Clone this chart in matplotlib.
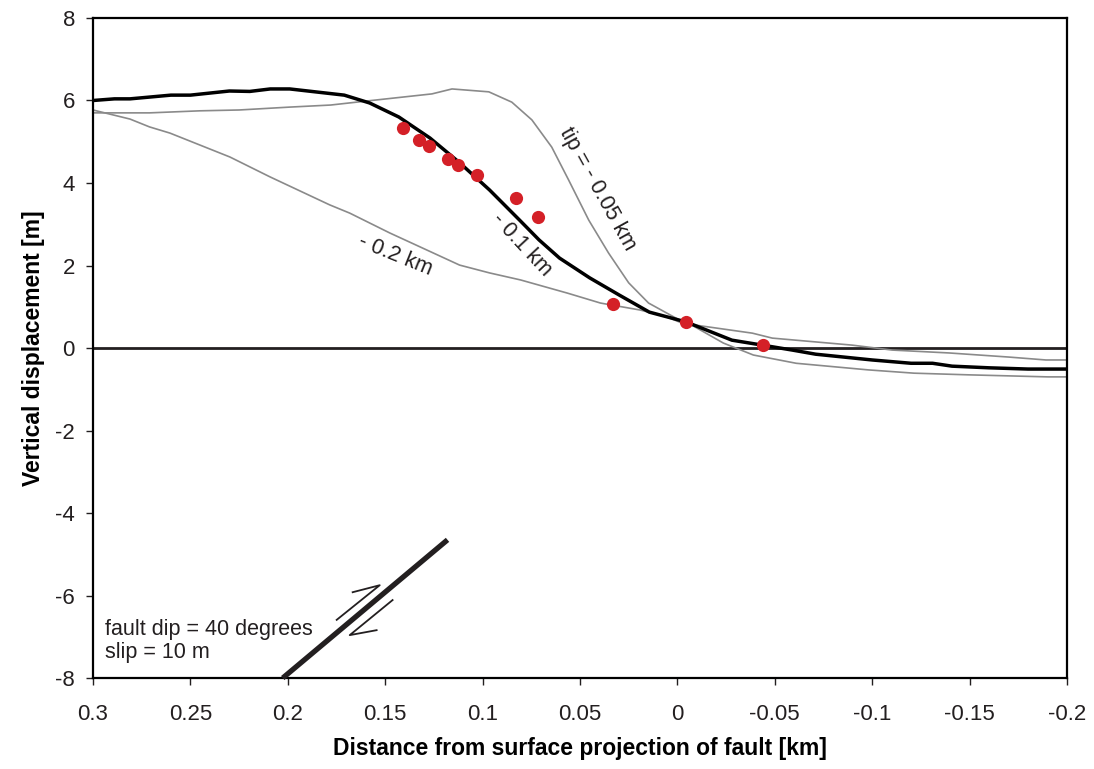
import numpy as np
import matplotlib.pyplot as plt

plt.rcParams['font.family'] = ['Liberation Sans', 'DejaVu Sans']
plt.rcParams['axes.unicode_minus'] = False

# tip = -0.1 km (thick black)
x_tip01 = [0.3, 0.289, 0.281, 0.26, 0.25, 0.23, 0.2195, 0.209, 0.199, 0.171, 0.158, 0.143,
           0.127, 0.112, 0.0964, 0.081, 0.071, 0.0605, 0.045, 0.0297, 0.0144, -0.0046,
           -0.028, -0.0436, -0.059, -0.071, -0.1, -0.12, -0.131, -0.141, -0.16, -0.18, -0.2]
y_tip01 = [6.0, 6.04, 6.04, 6.13, 6.13, 6.23, 6.22, 6.28, 6.28, 6.13, 5.94, 5.6,
           5.09, 4.5, 3.83, 3.1, 2.62, 2.18, 1.70, 1.28, 0.87, 0.63,
           0.19, 0.07, -0.05, -0.15, -0.29, -0.37, -0.37, -0.44, -0.48, -0.51, -0.51]

# tip = -0.05 km (gray)
x_tip005 = [0.3, 0.271, 0.245, 0.225, 0.199, 0.178, 0.159, 0.126, 0.1157, 0.0968, 0.085,
            0.0747, 0.0645, 0.0558, 0.0455, 0.0353, 0.025, 0.0148, -0.001, -0.0046,
            -0.0236, -0.039, -0.061, -0.0979, -0.1215, -0.1492, -0.1903, -0.2]
y_tip005 = [5.7, 5.7, 5.75, 5.77, 5.84, 5.89, 5.99, 6.16, 6.28, 6.21, 5.96,
            5.53, 4.87, 4.07, 3.1, 2.30, 1.58, 1.09, 0.68, 0.63,
            0.12, -0.17, -0.37, -0.53, -0.61, -0.65, -0.7, -0.7]

# tip = -0.2 km (gray)
x_tip02 = [0.3, 0.281, 0.271, 0.2605, 0.2297, 0.2092, 0.1785, 0.1682, 0.1477, 0.1118,
           0.0964, 0.0805, 0.0564, 0.0395, 0.019, 0.0052, -0.0026, -0.0385, -0.0487,
           -0.0897, -0.1103, -0.1395, -0.1703, -0.1892, -0.2]
y_tip02 = [5.77, 5.55, 5.36, 5.21, 4.63, 4.15, 3.47, 3.27, 2.79, 2.01,
           1.82, 1.65, 1.33, 1.09, 0.92, 0.75, 0.6, 0.36, 0.24,
           0.07, -0.05, -0.12, -0.22, -0.29, -0.29]

# observed offsets
x_obs = [0.141, 0.1328, 0.1277, 0.118, 0.1128, 0.103, 0.083, 0.0713, 0.0333, -0.0046, -0.0441]
y_obs = [5.33, 5.04, 4.90, 4.58, 4.44, 4.19, 3.64, 3.18, 1.07, 0.63, 0.07]

xticks = [0.3, 0.25, 0.2, 0.15, 0.1, 0.05, 0, -0.05, -0.1, -0.15, -0.2]
xticklabels = ['0.3', '0.25', '0.2', '0.15', '0.1', '0.05', '0', '-0.05', '-0.1', '-0.15', '-0.2']
yticks = [8, 6, 4, 2, 0, -2, -4, -6, -8]

gray = '#8a8a8a'
ink = '#231f20'

fig = plt.figure(figsize=(10.94, 7.69), dpi=100)
ax = fig.add_axes([0.085, 0.1183, 0.8903, 0.8583])

ax.axhline(0, color=ink, lw=2, zorder=1)
ax.plot(x_tip005, y_tip005, color=gray, lw=1.2, zorder=2)
ax.plot(x_tip02, y_tip02, color=gray, lw=1.2, zorder=2)
ax.plot(x_tip01, y_tip01, color='black', lw=2.5, zorder=3)
ax.plot(x_obs, y_obs, 'o', color='#d42027', ms=9.5, mec='none', zorder=4)

ax.text(0.1446, 2.25, '- 0.2 km', rotation=-22, fontsize=15.5, color=ink, ha='center', va='center')
ax.text(0.080, 2.5, '- 0.1 km', rotation=-47, fontsize=15.5, color=ink, ha='center', va='center')
ax.text(0.041, 3.85, 'tip = - 0.05 km', rotation=-61, fontsize=15.5, color=ink, ha='center', va='center')

ax.text(0.294, -7.1, 'fault dip = 40 degrees\nslip = 10 m', fontsize=15.5, color=ink,
        ha='left', va='center', linespacing=1.1)

# fault sketch
fault_x = [0.2026, 0.118]
fault_y = [-8, -4.65]
ax.plot(fault_x, fault_y, color=ink, lw=3.8, solid_capstyle='butt', clip_on=False, zorder=3)
up_x = [0.1749, 0.1528, 0.1667]
up_y = [-6.59, -5.75, -5.92]
dn_x = [0.1462, 0.1682, 0.1544]
dn_y = [-6.11, -6.96, -6.84]
ax.plot(up_x, up_y, color=ink, lw=1.3, zorder=3)
ax.plot(dn_x, dn_y, color=ink, lw=1.3, zorder=3)

ax.set_xlim(0.3, -0.2)
ax.set_ylim(-8, 8)
ax.set_xticks(xticks)
ax.set_xticklabels(xticklabels)
ax.set_yticks(yticks)
ax.tick_params(direction='out', length=5, width=1, labelsize=16, colors=ink)
ax.tick_params(axis='x', pad=14)
ax.tick_params(axis='y', pad=8)
for s in ax.spines.values():
    s.set_linewidth(1.6)
    s.set_color('black')

ax.set_xlabel('Distance from surface projection of fault [km]', fontsize=16.5,
              fontweight='bold', labelpad=8)
ax.set_ylabel('Vertical displacement [m]', fontsize=16.5, fontweight='bold', labelpad=7)

fig.savefig('out.png', dpi=100)
